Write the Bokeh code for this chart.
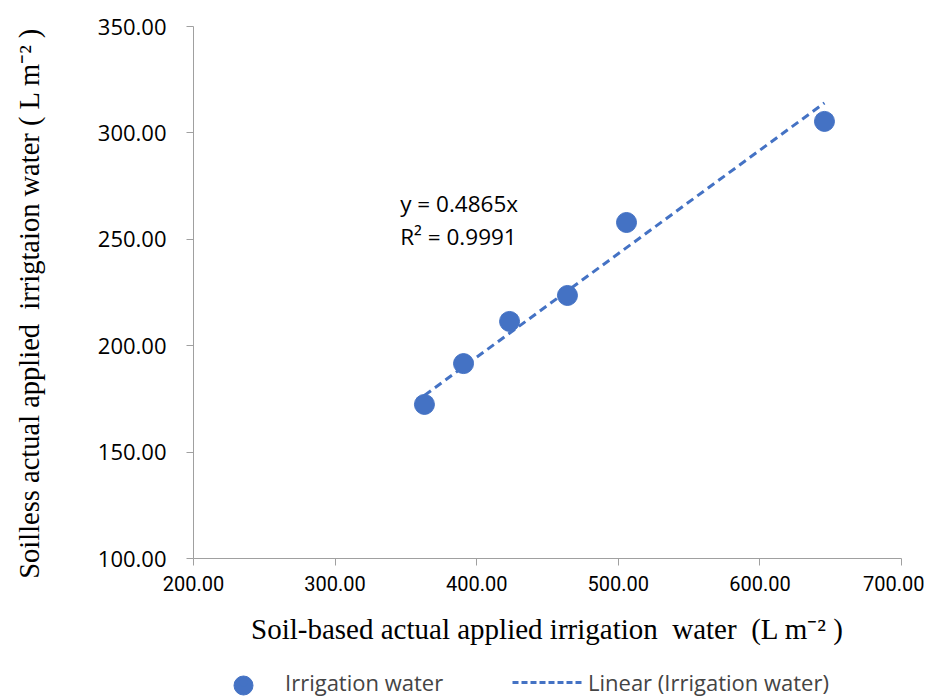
from bokeh.plotting import figure
from bokeh.layouts import column
from bokeh.models import Range1d, Legend, LegendItem, Label, NumeralTickFormatter, FixedTicker
from bokeh.embed import file_html
from bokeh.resources import INLINE

# data
soil_based = [363.1, 390.7, 423.2, 464.1, 505.8, 645.6]
soilless = [172.4, 191.6, 211.4, 223.6, 257.9, 305.4]
slope = 0.4865
r2 = 0.9991
x_ticks = [200, 300, 400, 500, 600, 700]
y_ticks = [100, 150, 200, 250, 300, 350]
series_names = ["Irrigation water", "Linear (Irrigation water)"]

trend_x = [min(soil_based), max(soil_based)]
trend_y = [slope * v for v in trend_x]

BLUE = "#4472C4"
AXIS = "#a0a0a0"
NB = "\u00a0"

p = figure(width=924, height=660, output_backend="svg", toolbar_location=None,
           x_range=Range1d(200, 700), y_range=Range1d(100, 350),
           min_border_left=193, min_border_right=23, min_border_top=26, min_border_bottom=102)
p.outline_line_color = None
p.xgrid.grid_line_color = None
p.ygrid.grid_line_color = None

for ax in (p.xaxis[0], p.yaxis[0]):
    ax.axis_line_color = AXIS
    ax.major_tick_line_color = AXIS
    ax.minor_tick_line_color = None
    ax.major_tick_out = 7
    ax.major_tick_in = 0
    ax.formatter = NumeralTickFormatter(format="0.00")
    ax.major_label_text_color = "#000000"
    ax.axis_label_text_font_style = "normal"
    ax.axis_label_text_color = "#000000"
    ax.axis_label_text_font = "Liberation Serif"

p.xaxis.ticker = FixedTicker(ticks=x_ticks)
p.yaxis.ticker = FixedTicker(ticks=y_ticks)
p.xaxis.major_label_text_font = "Roboto"
p.xaxis.major_label_text_font_size = "20px"
p.yaxis.major_label_text_font = "Open Sans"
p.yaxis.major_label_text_font_size = "22px"
p.xaxis.major_label_standoff = 10
p.yaxis.major_label_standoff = 20

p.xaxis.axis_label = f"Soil-based actual applied irrigation{NB} water{NB} (L m\u207b\u00b2 )"
p.yaxis.axis_label = f"Soilless actual applied{NB} irrigtaion water ( L m\u207b\u00b2 )" + NB * 3
p.xaxis.axis_label_text_font_size = "29px"
p.yaxis.axis_label_text_font_size = "28.5px"
p.xaxis.axis_label_standoff = 19
p.yaxis.axis_label_standoff = 50

line = p.line(trend_x, trend_y, line_color=BLUE, line_width=3, line_dash="8 5")
pts = p.scatter(soil_based, soilless, size=20, fill_color=BLUE, line_color=BLUE)

p.add_layout(Label(x=346, y=266.8, text=f"y = {slope}x", text_font="Open Sans",
                   text_font_size="22.5px", text_baseline="middle", text_color="#000000"))
p.add_layout(Label(x=346, y=251.2, text=f"R\u00b2 = {r2}", text_font="Open Sans",
                   text_font_size="22.5px", text_baseline="middle", text_color="#000000"))

# legend strip below the chart (its frame is aligned with the chart's frame, 1 unit = 1 px)
lg = figure(width=924, height=38, output_backend="svg", toolbar_location=None,
            x_range=Range1d(0, 708), y_range=Range1d(0, 38),
            min_border_left=0, min_border_right=0, min_border_top=0, min_border_bottom=0)
lg.outline_line_color = None
lg.xaxis.visible = False
lg.yaxis.visible = False
lg.xgrid.visible = False
lg.ygrid.visible = False
# legend key for the markers, drawn at full marker size
lg_pts = lg.scatter(x=[50], y=[13], size=19, fill_color=BLUE, line_color=BLUE)
lg_line = lg.line(x=[-10, -9], y=[-10, -10], line_color=BLUE, line_width=3, line_dash="6 3")

leg1 = Legend(items=[LegendItem(label=series_names[0], renderers=[lg_pts])],
              location=(40, 1), padding=0, margin=0, border_line_color=None,
              background_fill_alpha=0, glyph_width=20, glyph_height=24, label_height=24,
              label_standoff=32, label_text_font="Open Sans", label_text_font_size="22px")
leg2 = Legend(items=[LegendItem(label=series_names[1], renderers=[lg_line])],
              location=(319, 1), padding=0, margin=0, border_line_color=None,
              background_fill_alpha=0, glyph_width=72, glyph_height=24, label_height=24,
              label_standoff=4, label_text_font="Open Sans", label_text_font_size="22px")
lg.add_layout(leg1, "center")
lg.add_layout(leg2, "center")

open("out.html", "w").write(file_html(column(p, lg, spacing=0), INLINE))
